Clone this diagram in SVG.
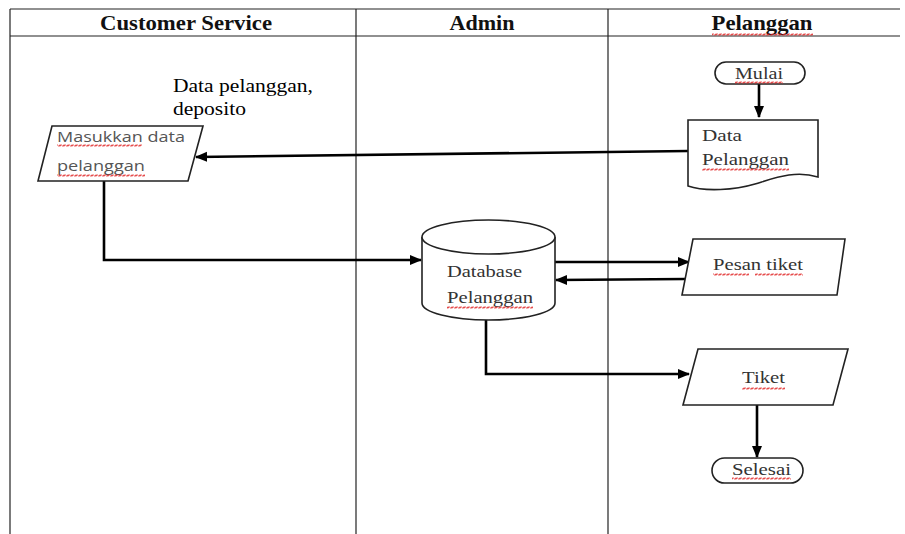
<svg xmlns="http://www.w3.org/2000/svg" width="905" height="534" viewBox="0 0 905 534">
<style>
.grid{stroke:#222;stroke-width:1.2;fill:none}
.shape{fill:#fff;stroke:#222;stroke-width:1.6}
.conn{stroke:#000;stroke-width:2.6;fill:none}
.hdr{font-family:"Liberation Serif",serif;font-weight:bold;font-size:21px;fill:#111;text-anchor:middle}
.t{font-family:"Liberation Serif",serif;font-size:17px;fill:#333}
.lbl{font-family:"Liberation Serif",serif;font-size:19px;fill:#000}
.cal{font-family:"Open Sans","Liberation Sans",sans-serif;font-size:15px;fill:#555}
.sp{fill:url(#wave)}
</style>
<defs>
<marker id="ah" markerWidth="12" markerHeight="12" refX="11" refY="6" orient="auto" markerUnits="userSpaceOnUse">
<path d="M0,1 L12,6 L0,11 Z" fill="#000"/>
</marker>
<pattern id="wave" width="4" height="3" patternUnits="userSpaceOnUse">
<path d="M0,2.5 L1,0.5 L3,2.5 L4,0.5" stroke="#e02020" stroke-width="0.8" fill="none"/>
</pattern>
</defs>

<g id="table">
<line class="grid" x1="10" y1="9" x2="900" y2="9"/>
<line class="grid" x1="10" y1="36" x2="900" y2="36" stroke-width="2"/>
<line class="grid" x1="10" y1="9" x2="10" y2="534"/>
<line class="grid" x1="356" y1="9" x2="356" y2="534"/>
<line class="grid" x1="608" y1="9" x2="608" y2="534"/>
<text class="hdr" x="186" y="30" textLength="172" lengthAdjust="spacingAndGlyphs">Customer Service</text>
<text class="hdr" x="482" y="30" textLength="65" lengthAdjust="spacingAndGlyphs">Admin</text>
<text class="hdr" x="762" y="30" textLength="101" lengthAdjust="spacingAndGlyphs">Pelanggan</text>
<rect class="sp" x="712" y="33" width="101" height="3"/>
</g>

<g id="label-data">
<text class="lbl" x="173" y="92" textLength="140" lengthAdjust="spacingAndGlyphs">Data pelanggan,</text>
<text class="lbl" x="173" y="115" textLength="73" lengthAdjust="spacingAndGlyphs">deposito</text>
</g>

<g id="connectors">
<line class="conn" x1="759" y1="84" x2="759" y2="117" marker-end="url(#ah)"/>
<line class="conn" x1="688" y1="151" x2="196" y2="157" marker-end="url(#ah)"/>
<polyline class="conn" points="104,181 104,260 421,260" marker-end="url(#ah)"/>
<line class="conn" x1="555" y1="262" x2="689" y2="262" marker-end="url(#ah)"/>
<line class="conn" x1="686" y1="279" x2="556" y2="280" marker-end="url(#ah)"/>
<polyline class="conn" points="486,320 486,374 689,374" marker-end="url(#ah)"/>
<line class="conn" x1="757" y1="405" x2="757" y2="457" marker-end="url(#ah)"/>
</g>

<g id="masukkan">
<polygon class="shape" points="52,126 203,126 188,181 38,181"/>
<text class="cal" x="57" y="142" textLength="128" lengthAdjust="spacingAndGlyphs">Masukkan data</text>
<text class="cal" x="57" y="171" textLength="88" lengthAdjust="spacingAndGlyphs">pelanggan</text>
<rect class="sp" x="57" y="144" width="85" height="3"/>
<rect class="sp" x="57" y="174" width="88" height="3"/>
</g>

<g id="mulai">
<rect class="shape" x="715" y="62" width="90" height="22" rx="11"/>
<text class="t" x="759" y="79" text-anchor="middle" textLength="48" lengthAdjust="spacingAndGlyphs">Mulai</text>
<rect class="sp" x="735" y="81" width="48" height="3"/>
</g>

<g id="data-pelanggan">
<path class="shape" d="M688,120 H818 V177 C795,170 775,178 755,184 C735,190 705,192 688,186 Z"/>
<text class="t" x="702" y="141" textLength="40" lengthAdjust="spacingAndGlyphs">Data</text>
<text class="t" x="702" y="165" textLength="87" lengthAdjust="spacingAndGlyphs">Pelanggan</text>
<rect class="sp" x="702" y="168" width="87" height="3"/>
</g>

<g id="database">
<path class="shape" d="M422,237 V303 A66.5,17 0 0 0 555,303 V237"/>
<ellipse class="shape" cx="488.5" cy="237" rx="66.5" ry="17"/>
<text class="t" x="447" y="277" textLength="75" lengthAdjust="spacingAndGlyphs">Database</text>
<text class="t" x="447" y="303" textLength="86" lengthAdjust="spacingAndGlyphs">Pelanggan</text>
<rect class="sp" x="447" y="306" width="86" height="3"/>
</g>

<g id="pesan-tiket">
<polygon class="shape" points="693,239 845,239 837,295 682,295"/>
<text class="t" x="713" y="270" textLength="90" lengthAdjust="spacingAndGlyphs">Pesan tiket</text>
<rect class="sp" x="713" y="273" width="36" height="3"/>
<rect class="sp" x="755" y="273" width="48" height="3"/>
</g>

<g id="tiket">
<polygon class="shape" points="698,349 848,349 833,405 683,405"/>
<text class="t" x="742" y="383" textLength="43" lengthAdjust="spacingAndGlyphs">Tiket</text>
<rect class="sp" x="742" y="387" width="43" height="3"/>
</g>

<g id="selesai">
<rect class="shape" x="712" y="458" width="91" height="25" rx="12.5"/>
<text class="t" x="732" y="475" textLength="59" lengthAdjust="spacingAndGlyphs">Selesai</text>
<rect class="sp" x="732" y="477" width="59" height="3"/>
</g>
</svg>
